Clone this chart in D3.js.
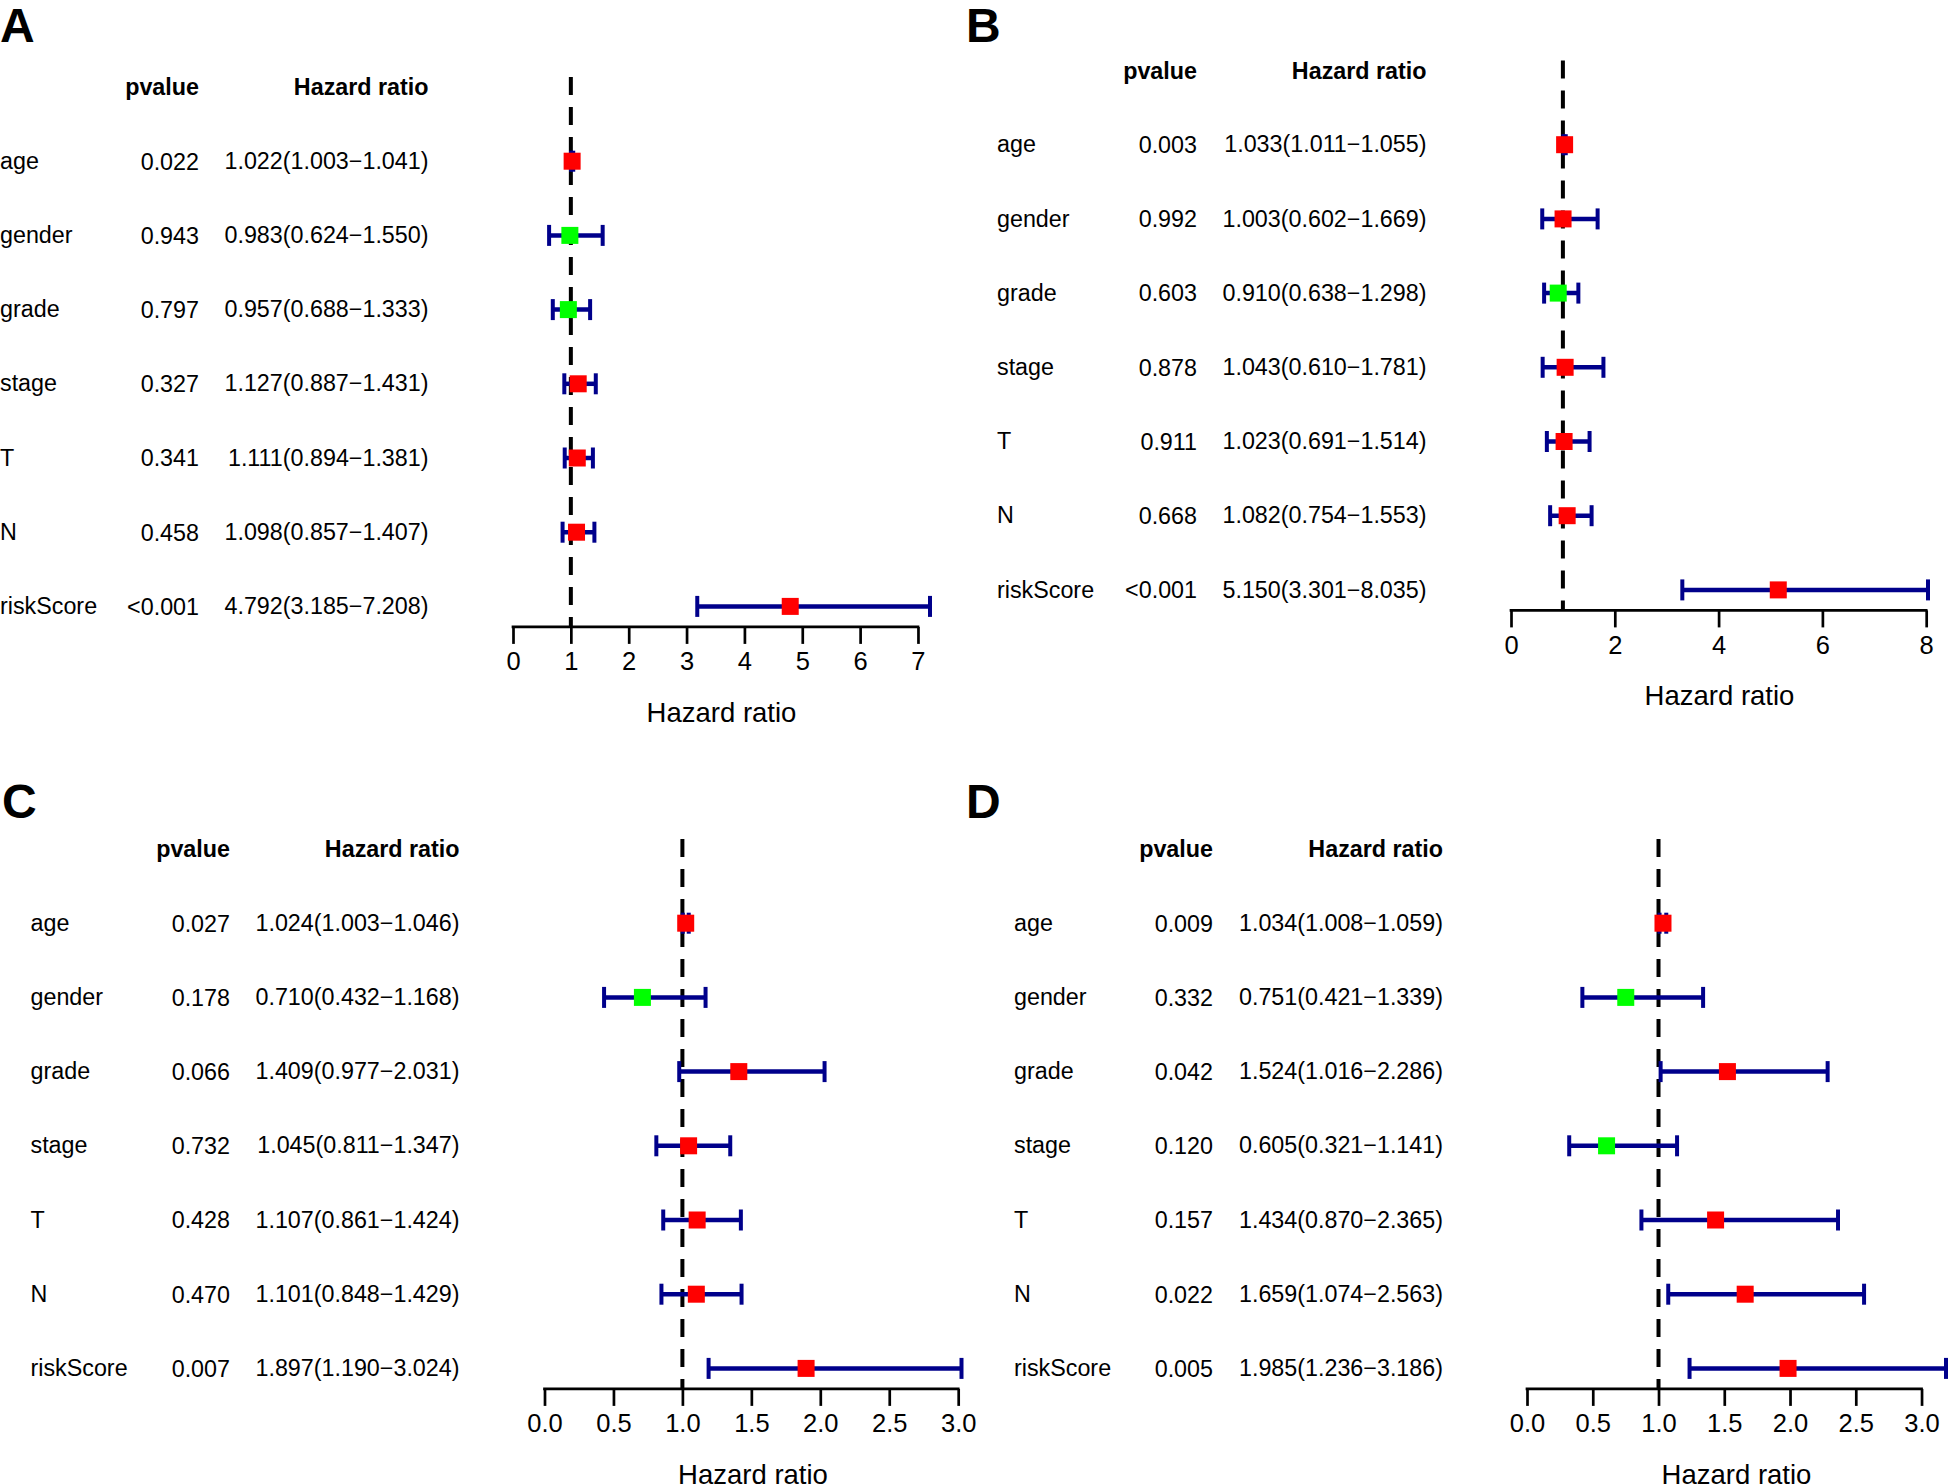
<!DOCTYPE html>
<html><head><meta charset="utf-8">
<script src="https://cdn.jsdelivr.net/npm/d3@7"></script>
<style>
html,body{margin:0;padding:0;background:#fff;}
svg{display:block;font-family:"Liberation Sans",Arial,Helvetica,sans-serif;}
</style></head><body>
<svg id="chart" width="1952" height="1484"></svg>
<script>
// ---------------- data ----------------
const variables = ["age","gender","grade","stage","T","N","riskScore"];

const pvalueA = ["0.022","0.943","0.797","0.327","0.341","0.458","<0.001"];
const hrA     = [1.022,0.983,0.957,1.127,1.111,1.098,4.792];
const lowerA  = [1.003,0.624,0.688,0.887,0.894,0.857,3.185];
const upperA  = [1.041,1.550,1.333,1.431,1.381,1.407,7.208];
const ticksA  = [0,1,2,3,4,5,6,7];

const pvalueB = ["0.003","0.992","0.603","0.878","0.911","0.668","<0.001"];
const hrB     = [1.033,1.003,0.910,1.043,1.023,1.082,5.150];
const lowerB  = [1.011,0.602,0.638,0.610,0.691,0.754,3.301];
const upperB  = [1.055,1.669,1.298,1.781,1.514,1.553,8.035];
const ticksB  = [0,2,4,6,8];

const pvalueC = ["0.027","0.178","0.066","0.732","0.428","0.470","0.007"];
const hrC     = [1.024,0.710,1.409,1.045,1.107,1.101,1.897];
const lowerC  = [1.003,0.432,0.977,0.811,0.861,0.848,1.190];
const upperC  = [1.046,1.168,2.031,1.347,1.424,1.429,3.024];
const ticksC  = [0,0.5,1,1.5,2,2.5,3];

const pvalueD = ["0.009","0.332","0.042","0.120","0.157","0.022","0.005"];
const hrD     = [1.034,0.751,1.524,0.605,1.434,1.659,1.985];
const lowerD  = [1.008,0.421,1.016,0.321,0.870,1.074,1.236];
const upperD  = [1.059,1.339,2.286,1.141,2.365,2.563,3.186];
const ticksD  = [0,0.5,1,1.5,2,2.5,3];

// ---------------- layout ----------------
const panels = [
  {letter:"A", pval:pvalueA, hr:hrA, lo:lowerA, up:upperA, ticks:ticksA, fmt:d3.format("d"),
   letterX:0, letterY:42, labelX:0, pRight:199, hrRight:428.5, headerY:87, x0:513, w:417},
  {letter:"B", pval:pvalueB, hr:hrB, lo:lowerB, up:upperB, ticks:ticksB, fmt:d3.format("d"),
   letterX:966, letterY:42, labelX:997, pRight:1197, hrRight:1426.5, headerY:70.5, x0:1511, w:417},
  {letter:"C", pval:pvalueC, hr:hrC, lo:lowerC, up:upperC, ticks:ticksC, fmt:d3.format(".1f"),
   letterX:2, letterY:818, labelX:30.5, pRight:230, hrRight:459.5, headerY:849, x0:544.5, w:417},
  {letter:"D", pval:pvalueD, hr:hrD, lo:lowerD, up:upperD, ticks:ticksD, fmt:d3.format(".1f"),
   letterX:966, letterY:818, labelX:1014, pRight:1213, hrRight:1443, headerY:849, x0:1527, w:419}
];
const rowStep = 74.2;
const textSize = 23.3;
const navy = "#00008B";

const svg = d3.select("#chart");
svg.append("rect").attr("width",1952).attr("height",1484).attr("fill","#fff");

panels.forEach(p => {
  const g = svg.append("g");
  const n = variables.length;
  const y = i => p.headerY + (i + 1) * rowStep;
  const axisY = y(n - 1) + 20.5;
  const x = d3.scaleLinear().domain([0, d3.max(p.up)]).range([p.x0, p.x0 + p.w]);

  // panel letter
  g.append("text").attr("x", p.letterX).attr("y", p.letterY)
    .attr("font-size", 48).attr("font-weight", "bold").text(p.letter);

  // headers
  g.append("text").attr("x", p.pRight).attr("y", p.headerY).attr("dy","0.36em")
    .attr("text-anchor","end").attr("font-size",textSize).attr("font-weight","bold").text("pvalue");
  g.append("text").attr("x", p.hrRight).attr("y", p.headerY).attr("dy","0.36em")
    .attr("text-anchor","end").attr("font-size",textSize).attr("font-weight","bold").text("Hazard ratio");

  // rows text
  const rows = variables.map((v,i) => ({v, i, p:p.pval[i], hr:p.hr[i], lo:p.lo[i], up:p.up[i]}));
  g.selectAll(".lab").data(rows).join("text")
    .attr("x", p.labelX).attr("y", d => y(d.i)).attr("dy","0.33em")
    .attr("font-size", textSize).text(d => d.v);
  g.selectAll(".pv").data(rows).join("text")
    .attr("x", p.pRight).attr("y", d => y(d.i)).attr("dy","0.36em")
    .attr("text-anchor","end").attr("font-size", textSize).text(d => d.p);
  g.selectAll(".hrt").data(rows).join("text")
    .attr("x", p.hrRight).attr("y", d => y(d.i)).attr("dy","0.33em")
    .attr("text-anchor","end").attr("font-size", textSize)
    .text(d => d.hr.toFixed(3) + "(" + d.lo.toFixed(3) + "\u2212" + d.up.toFixed(3) + ")");

  // dashed reference line at HR = 1
  g.append("line").attr("x1", x(1)).attr("x2", x(1))
    .attr("y1", p.headerY - 10).attr("y2", axisY)
    .attr("stroke","#000").attr("stroke-width",4).attr("stroke-dasharray","18,12");

  // error bars
  g.selectAll(".ci").data(rows).join("line")
    .attr("x1", d => x(d.lo)).attr("x2", d => x(d.up))
    .attr("y1", d => y(d.i)).attr("y2", d => y(d.i))
    .attr("stroke", navy).attr("stroke-width", 4.5);
  ["lo","up"].forEach(k => {
    g.selectAll(".cap"+k).data(rows).join("line")
      .attr("x1", d => x(d[k])).attr("x2", d => x(d[k]))
      .attr("y1", d => y(d.i) - 10.5).attr("y2", d => y(d.i) + 10.5)
      .attr("stroke", navy).attr("stroke-width", 4);
  });

  // squares
  const s = 17;
  g.selectAll(".sq").data(rows).join("rect")
    .attr("x", d => x(d.hr) - s/2).attr("y", d => y(d.i) - s/2)
    .attr("width", s).attr("height", s)
    .attr("fill", d => d.hr > 1 ? "#FF0000" : "#00FF00");

  // axis
  const axis = d3.axisBottom(x).tickValues(p.ticks).tickFormat(p.fmt)
    .tickSize(17).tickPadding(8.5).tickSizeOuter(0);
  const ag = g.append("g").attr("transform", `translate(0,${axisY})`).call(axis);
  ag.select(".domain").remove();
  ag.selectAll(".tick line").attr("stroke","#000").attr("stroke-width",2.7);
  ag.selectAll(".tick text").attr("fill","#000").attr("font-size",25.5)
    .attr("font-family","Liberation Sans, Arial, sans-serif");
  ag.append("line").attr("x1", x(p.ticks[0])).attr("x2", x(p.ticks[p.ticks.length-1]))
    .attr("y1", 0).attr("y2", 0).attr("stroke","#000").attr("stroke-width",2.7)
    .attr("stroke-linecap","square");

  // x label
  g.append("text").attr("x", (x.range()[0] + x.range()[1]) / 2).attr("y", axisY + 95)
    .attr("text-anchor","middle").attr("font-size",27.5).text("Hazard ratio");
});
</script>
</body></html>
